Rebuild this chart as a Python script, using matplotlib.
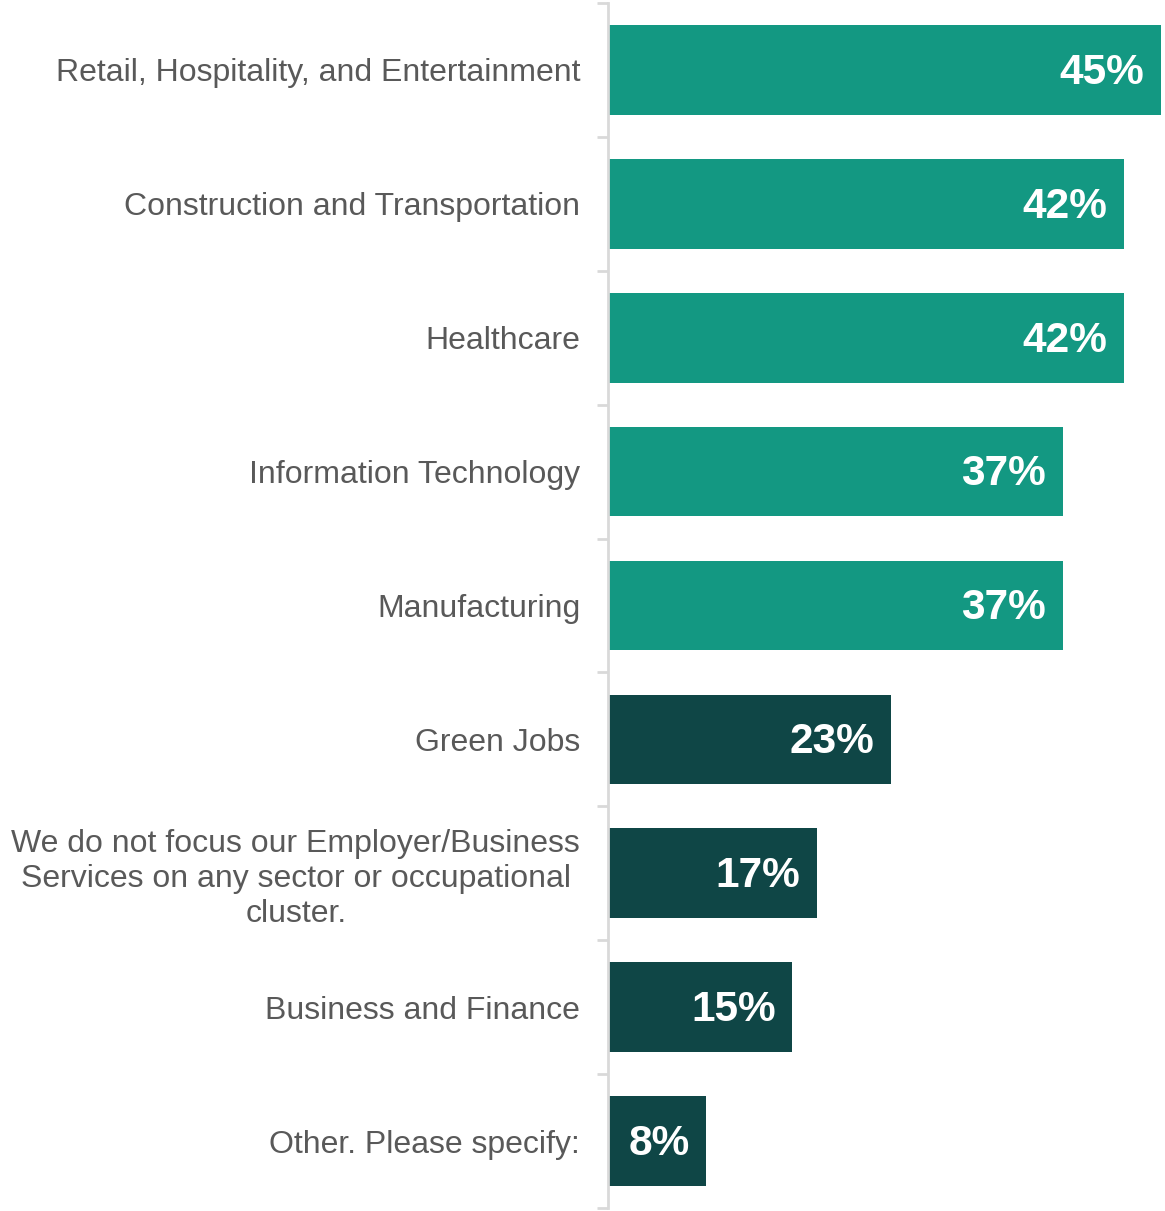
import matplotlib
matplotlib.use("Agg")
import matplotlib.pyplot as plt
from matplotlib.ticker import FixedLocator

categories = [
    "Retail, Hospitality, and Entertainment",
    "Construction and Transportation",
    "Healthcare",
    "Information Technology",
    "Manufacturing",
    "Green Jobs",
    "We do not focus our Employer/Business\nServices on any sector or occupational\ncluster.",
    "Business and Finance",
    "Other. Please specify:",
]
values = [45, 42, 42, 37, 37, 23, 17, 15, 8]
groups = ["top", "top", "top", "top", "top", "rest", "rest", "rest", "rest"]
palette = {"top": "#139882", "rest": "#0f4646"}

plt.rcParams["font.family"] = ["Liberation Sans", "DejaVu Sans"]

W, H = 1165, 1211
fig = plt.figure(figsize=(W / 100, H / 100), dpi=100)
ax = fig.add_axes([608 / W, 1 - 1208 / H, (1161 - 608) / W, (1208 - 3) / H])

ypos = list(range(len(categories)))
colors = [palette[g] for g in groups]
ax.barh(ypos, values, height=0.67, color=colors, left=0)

ax.set_xlim(0, 45)
ax.set_ylim(len(categories) - 0.5, -0.5)

for spine in ["top", "right", "bottom"]:
    ax.spines[spine].set_visible(False)
ax.spines["left"].set_color("#d9d9d9")
ax.spines["left"].set_linewidth(2)
ax.xaxis.set_visible(False)

ax.set_yticks(ypos)
ax.set_yticklabels(categories, fontsize=23, color="#595959", ha="right",
                   multialignment="center", linespacing=1.22)
ax.tick_params(axis="y", which="major", length=0, pad=20)
ax.yaxis.set_minor_locator(FixedLocator([i - 0.5 for i in range(len(categories) + 1)]))
ax.tick_params(axis="y", which="minor", length=8, width=2, color="#d9d9d9")

for y, v in zip(ypos, values):
    ax.annotate(f"{v}%", xy=(v, y), xytext=(-12, -2), textcoords="offset points",
                ha="right", va="center", fontsize=30.5, fontweight="bold", color="white")

fig.savefig("out.png", dpi=100)
